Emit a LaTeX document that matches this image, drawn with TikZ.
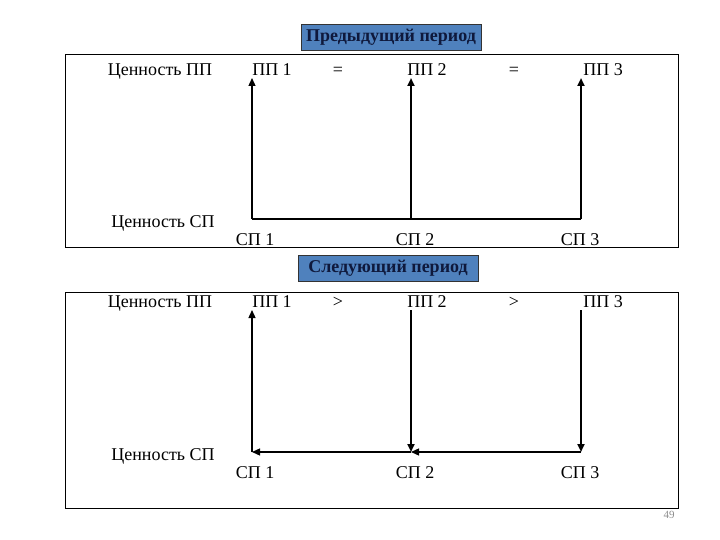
\documentclass[tikz,border=0pt]{standalone}
\usepackage{fontspec}
\setmainfont{Liberation Serif}
\usetikzlibrary{arrows.meta}
\definecolor{titleblue}{RGB}{79,129,189}
\definecolor{titletext}{RGB}{15,25,60}
\tikzset{
  frame/.style={draw=black, line width=0.9pt},
  lbl/.style={font=\fontsize{18}{20}\selectfont, inner sep=0pt, anchor=base},
  title/.style={draw=black!80, line width=0.8pt, fill=titleblue, text=titletext,
     font=\fontsize{18}{20}\bfseries\selectfont, minimum width=180pt, minimum height=26pt, inner sep=0pt},
  tip/.style={-{Triangle[length=8pt,width=7pt]}},
  arr/.style={line width=2pt, tip},
  ln/.style={line width=1.3pt},
}
\begin{document}
\begin{tikzpicture}[x=1pt,y=-1pt]
\useasboundingbox (0,0) rectangle (720,540);
% ---------- top panel ----------
\draw[frame] (65,54) rectangle (678,247);
\node[title] (t1) at (391,37) {Предыдущий период};
\node[lbl] (a1) at (160,76) {Ценность ПП};
\node[lbl] (p1) at (272,76) {ПП 1};
\node[lbl] (e1) at (338,76) {=};
\node[lbl] (p2) at (427,76) {ПП 2};
\node[lbl] (e2) at (514,76) {=};
\node[lbl] (p3) at (603,76) {ПП 3};
\node[lbl] (a2) at (163,228) {Ценность СП};
\node[lbl] (s1) at (255,245) {СП 1};
\node[lbl] (s2) at (415,245) {СП 2};
\node[lbl] (s3) at (580,245) {СП 3};
\coordinate (b1) at (252,219);
\coordinate (b2) at (411,219);
\coordinate (b3) at (581,219);
\coordinate (u1) at (252,78);
\coordinate (u2) at (411,78);
\coordinate (u3) at (581,78);
\coordinate (m1) at (252,158);
\draw[ln] (b1) -- (b3);
\draw[line width=1.3pt, tip] (b1) -- (u1);
\draw[line width=2.6pt] (b1) -- (m1);
\draw[arr] (b2) -- (u2);
\draw[arr] (b3) -- (u3);
% ---------- bottom panel ----------
\draw[frame] (65,292) rectangle (678,508);
\node[title] (t2) at (388,268) {Следующий период};
\node[lbl] (c1) at (160,307) {Ценность ПП};
\node[lbl] (q1) at (272,307) {ПП 1};
\node[lbl] (g1) at (338,307) {>};
\node[lbl] (q2) at (427,307) {ПП 2};
\node[lbl] (g2) at (514,307) {>};
\node[lbl] (q3) at (603,307) {ПП 3};
\node[lbl] (c2) at (163,460) {Ценность СП};
\node[lbl] (r1) at (255,478) {СП 1};
\node[lbl] (r2) at (415,478) {СП 2};
\node[lbl] (r3) at (580,478) {СП 3};
\coordinate (d1) at (252,452);
\coordinate (d2) at (411,452);
\coordinate (d3) at (581,452);
\coordinate (h1) at (252,310);
\coordinate (h2) at (411,310);
\coordinate (h3) at (581,310);
\coordinate (n1) at (252,392);
\draw[line width=1.3pt, tip] (d1) -- (h1);
\draw[line width=2.6pt] (d1) -- (n1);
\draw[arr] (h2) -- (d2);
\draw[arr] (h3) -- (d3);
\draw[ln, tip] (d3) -- (d2);
\draw[ln, tip] (d2) -- (d1);
\node[font=\fontsize{11}{12}\selectfont, text=black!45] (pg) at (669,515) {49};
\end{tikzpicture}
\end{document}
